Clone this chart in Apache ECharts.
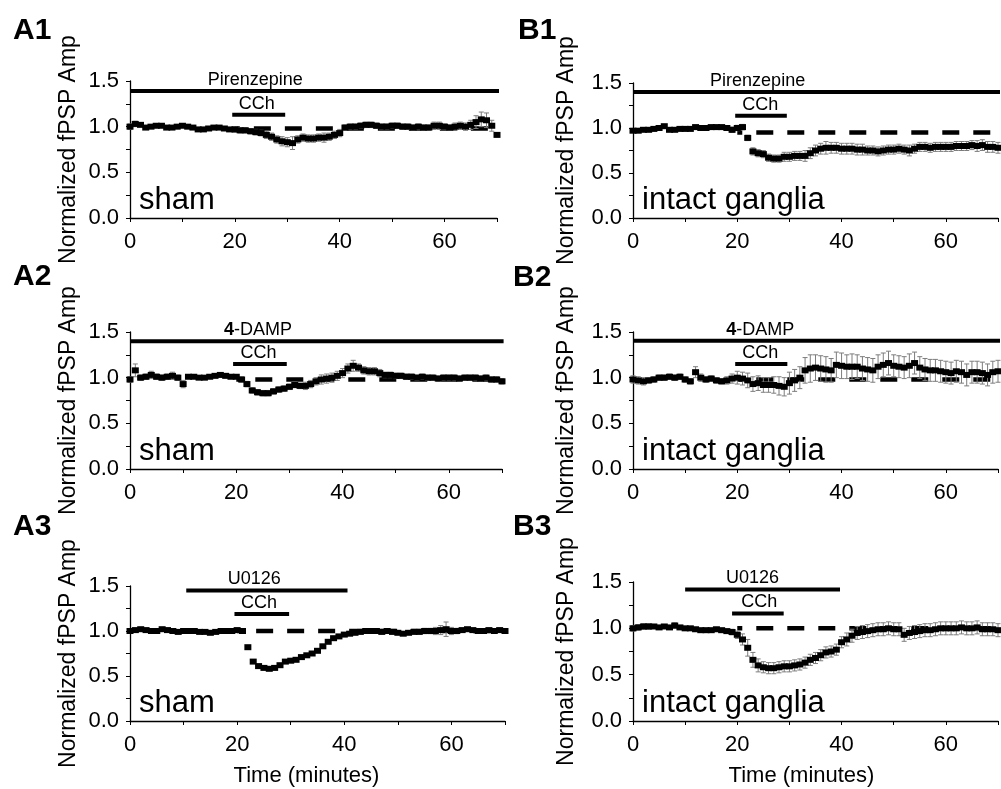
<!DOCTYPE html>
<html><head><meta charset="utf-8">
<script src="https://cdn.jsdelivr.net/npm/echarts@6/dist/echarts.min.js"></script>
<style>html,body{margin:0;padding:0;background:#fff}#c{width:1001px;height:789px}</style>
</head><body><div id="c"></div><script>
// ---------- DATA ----------
const times = [0,1,2,3,4,5,6,7,8,9,10,11,12,13,14,15,16,17,18,19,20,21,22,23,24,25,26,27,28,29,30,31,32,33,34,35,36,37,38,39,40,41,42,43,44,45,46,47,48,49,50,51,52,53,54,55,56,57,58,59,60,61,62,63,64,65,66,67,68,69,70];

const a1Values = [1.00,1.03,1.02,0.99,1.00,1.01,1.01,0.99,0.99,1.00,
 1.01,1.00,0.99,0.97,0.97,0.98,0.99,0.99,0.98,0.97,
 0.97,0.96,0.96,0.95,0.94,0.93,0.91,0.89,0.86,0.84,
 0.83,0.82,0.86,0.88,0.87,0.87,0.88,0.88,0.89,0.91,
 0.93,0.99,1.00,1.00,1.01,1.02,1.02,1.01,1.00,1.00,
 1.01,1.01,1.00,1.00,0.99,1.00,0.99,0.99,1.01,1.01,
 1.00,0.99,1.00,1.01,1.00,1.02,1.05,1.08,1.07,1.01,
 0.91];
const a1Errors = [0.03,0.03,0.02,0.02,0.02,0.02,0.02,0.02,0.02,0.02,
 0.02,0.02,0.02,0.02,0.02,0.02,0.02,0.02,0.02,0.02,
 0.03,0.03,0.03,0.03,0.03,0.03,0.04,0.04,0.04,0.05,
 0.05,0.07,0.04,0.04,0.04,0.04,0.04,0.05,0.04,0.04,
 0.04,0.03,0.03,0.03,0.03,0.03,0.03,0.03,0.03,0.03,
 0.03,0.03,0.03,0.03,0.03,0.03,0.03,0.03,0.04,0.04,
 0.03,0.03,0.04,0.04,0.04,0.05,0.07,0.08,0.08,0.06,
 0.02];

const b1Values = [0.97,0.97,0.98,0.98,0.99,1.00,1.02,0.98,0.98,0.99,
 0.99,0.99,1.01,1.00,1.00,1.01,1.01,1.01,1.00,0.98,
 1.00,1.01,0.89,0.74,0.72,0.71,0.67,0.66,0.66,0.68,
 0.68,0.69,0.69,0.69,0.72,0.75,0.77,0.78,0.78,0.78,
 0.77,0.77,0.77,0.76,0.76,0.75,0.75,0.74,0.75,0.76,
 0.76,0.77,0.76,0.75,0.77,0.79,0.79,0.78,0.79,0.79,
 0.79,0.79,0.80,0.80,0.80,0.81,0.80,0.81,0.79,0.79,
 0.78];
const b1Errors = [0.02,0.02,0.02,0.02,0.02,0.02,0.02,0.02,0.02,0.02,
 0.02,0.02,0.02,0.02,0.02,0.02,0.02,0.02,0.02,0.03,
 0.03,0.03,0.03,0.04,0.04,0.04,0.04,0.04,0.04,0.05,
 0.05,0.05,0.05,0.06,0.06,0.06,0.06,0.07,0.06,0.06,
 0.06,0.06,0.06,0.06,0.06,0.05,0.05,0.05,0.05,0.05,
 0.05,0.05,0.05,0.06,0.05,0.05,0.05,0.05,0.05,0.05,
 0.05,0.05,0.05,0.05,0.05,0.05,0.06,0.06,0.06,0.06,
 0.06];

const a2Values = [0.98,1.08,1.00,1.01,1.03,1.01,1.00,1.01,1.02,1.00,
 0.93,1.01,1.01,1.00,1.00,1.01,1.02,1.03,1.02,1.01,
 1.01,0.98,0.93,0.86,0.84,0.83,0.83,0.85,0.87,0.88,
 0.90,0.92,0.91,0.91,0.93,0.96,0.98,0.99,1.00,1.02,
 1.05,1.10,1.13,1.11,1.08,1.07,1.07,1.05,1.03,1.03,
 1.02,1.02,1.01,1.01,1.00,1.01,1.00,1.00,0.99,1.00,
 1.00,1.00,0.99,1.00,1.00,1.00,0.99,1.00,0.98,0.98,
 0.96];
const a2Errors = [0.03,0.07,0.03,0.03,0.04,0.03,0.03,0.03,0.04,0.03,
 0.04,0.02,0.02,0.02,0.02,0.02,0.02,0.02,0.02,0.02,
 0.02,0.03,0.03,0.03,0.03,0.03,0.03,0.03,0.03,0.03,
 0.03,0.03,0.03,0.04,0.04,0.04,0.05,0.05,0.05,0.05,
 0.05,0.05,0.06,0.04,0.04,0.04,0.04,0.04,0.03,0.03,
 0.03,0.03,0.03,0.03,0.03,0.03,0.03,0.03,0.03,0.03,
 0.03,0.03,0.03,0.03,0.03,0.03,0.03,0.03,0.03,0.03,
 0.03];

const b2Values = [0.98,0.97,0.96,0.97,0.98,1.00,1.00,1.01,1.00,1.01,
 0.98,0.96,1.06,1.00,0.98,0.99,0.97,0.96,0.97,0.99,
 1.00,0.99,0.97,0.93,0.94,0.92,0.92,0.92,0.91,0.90,
 0.94,0.97,1.00,1.08,1.10,1.11,1.10,1.09,1.08,1.14,
 1.13,1.12,1.12,1.12,1.10,1.09,1.08,1.12,1.14,1.16,
 1.13,1.12,1.11,1.13,1.16,1.11,1.09,1.08,1.08,1.07,
 1.06,1.05,1.07,1.06,1.03,1.06,1.06,1.05,1.03,1.06,
 1.07];
const b2Errors = [0.04,0.04,0.04,0.03,0.03,0.03,0.03,0.03,0.03,0.03,
 0.03,0.03,0.06,0.04,0.03,0.03,0.03,0.03,0.04,0.05,
 0.07,0.07,0.08,0.08,0.08,0.08,0.08,0.09,0.10,0.10,
 0.12,0.12,0.12,0.14,0.15,0.14,0.14,0.14,0.13,0.14,
 0.14,0.13,0.14,0.13,0.13,0.13,0.13,0.13,0.13,0.13,
 0.12,0.12,0.12,0.13,0.12,0.12,0.12,0.12,0.12,0.12,
 0.12,0.12,0.12,0.12,0.12,0.12,0.12,0.12,0.12,0.12,
 0.12];

const a3Values = [1.00,1.01,1.02,1.01,1.00,1.00,1.02,1.01,1.00,0.99,
 1.00,1.00,1.00,0.99,0.99,0.98,0.99,1.00,1.00,1.00,
 1.01,1.00,0.82,0.66,0.61,0.59,0.58,0.59,0.62,0.66,
 0.67,0.68,0.71,0.73,0.75,0.78,0.83,0.88,0.92,0.94,
 0.96,0.97,0.98,0.99,1.00,1.00,1.00,0.99,1.00,0.99,
 0.98,0.97,0.98,0.99,0.99,1.00,1.00,1.00,1.01,1.02,
 1.00,1.00,1.01,1.02,1.01,1.00,1.00,1.01,1.00,1.01,
 1.00];
const a3Errors = [0.02,0.02,0.02,0.02,0.02,0.02,0.02,0.02,0.02,0.02,
 0.02,0.02,0.02,0.02,0.02,0.02,0.02,0.02,0.02,0.02,
 0.02,0.02,0.02,0.02,0.02,0.02,0.02,0.02,0.02,0.02,
 0.02,0.02,0.02,0.02,0.02,0.02,0.02,0.02,0.02,0.02,
 0.02,0.02,0.02,0.02,0.02,0.02,0.02,0.02,0.02,0.02,
 0.02,0.02,0.02,0.02,0.02,0.03,0.03,0.04,0.05,0.08,
 0.04,0.03,0.02,0.02,0.02,0.02,0.02,0.02,0.02,0.02,
 0.02];

const b3Values = [1.00,1.01,1.02,1.02,1.02,1.01,1.02,1.01,1.03,1.01,
 1.00,1.00,0.99,0.98,0.98,0.98,0.99,0.98,0.97,0.96,
 0.93,0.88,0.79,0.66,0.60,0.58,0.57,0.57,0.58,0.59,
 0.59,0.60,0.61,0.63,0.66,0.68,0.71,0.74,0.75,0.77,
 0.85,0.88,0.92,0.95,0.96,0.97,0.98,0.99,0.99,1.00,
 0.99,0.99,0.93,0.95,0.96,0.97,0.98,0.98,0.99,1.00,
 1.00,1.00,1.00,1.01,1.00,1.00,1.01,0.99,0.99,0.99,
 0.98];
const b3Errors = [0.03,0.03,0.03,0.03,0.02,0.02,0.02,0.02,0.03,0.02,
 0.02,0.02,0.02,0.02,0.02,0.02,0.02,0.02,0.02,0.03,
 0.04,0.06,0.09,0.08,0.07,0.06,0.06,0.06,0.06,0.06,
 0.06,0.06,0.06,0.06,0.06,0.06,0.06,0.06,0.06,0.06,
 0.06,0.07,0.07,0.07,0.07,0.07,0.07,0.07,0.07,0.07,
 0.07,0.07,0.07,0.07,0.07,0.07,0.07,0.07,0.07,0.07,
 0.07,0.07,0.07,0.07,0.07,0.07,0.07,0.07,0.07,0.07,
 0.07];

// annotation bars (minutes / normalized level)
const panelLetters = ['A1','B1','A2','B2','A3','B3'];
const conditionNames = ['sham','intact ganglia','sham','intact ganglia','sham','intact ganglia'];
const drugNames = ['Pirenzepine','Pirenzepine','4-DAMP','4-DAMP','U0126','U0126'];
const drugStart = [0,0,0,0,10.5,10];
const drugEnd = [71,71,70.3,71,40.6,39.7];
const drugLevel = [1.39,1.40,1.40,1.405,1.45,1.42];
const drugLabelAt = [23.9,23.9,24.1,24.4,23.2,22.9];
const cchName = 'CCh';
const cchStart = [19.5,19.6,19.4,19.6,19.5,19];
const cchEnd = [29.6,29.5,29.5,29.6,29.7,28.9];
const cchLevel = [1.13,1.135,1.15,1.15,1.19,1.16];
const cchLabelAt = [24.2,24.4,24.2,24.4,24.1,24.2];
const baselineLevel = [0.98,0.95,0.98,0.98,1.0,1.0];
const baselineStart = [20,20,20,20,20,20];
const baselineEnd = [70,71,70,71,69.6,71];
const xTickLabels = [0,20,40,60];
const yTickLabels = [0,0.5,1.0,1.5];
const xAxisTitle = 'Time (minutes)';
const yAxisTitle = 'Normalized fPSP Amp';

const seriesValues = [a1Values,b1Values,a2Values,b2Values,a3Values,b3Values];
const seriesErrors = [a1Errors,b1Errors,a2Errors,b2Errors,a3Errors,b3Errors];

// ---------- LAYOUT ----------
const layout = [
  {left:130, top:81,  width:367, height:137, letterX:13,  letterBase:42,  nameGap:50},
  {left:633, top:83,  width:369, height:135, letterX:518, letterBase:42,  nameGap:55},
  {left:130, top:332, width:372, height:137, letterX:13,  letterBase:288, nameGap:50},
  {left:633, top:332, width:369, height:137, letterX:513, letterBase:289, nameGap:55},
  {left:130, top:586, width:375, height:135, letterX:13,  letterBase:538, nameGap:50, xPad:22},
  {left:633, top:582, width:376, height:139, letterX:513, letterBase:538, nameGap:55, xPad:28}
];
const FF = '"Liberation Sans", Arial, sans-serif';
const COND_FS = 31, LETTER_FS = 30;

const chart = echarts.init(document.getElementById('c'), null, {renderer:'canvas'});
const grids = [], xAxes = [], yAxes = [], series = [], graphics = [];

function errRender(params, api){
  const x = api.value(0), y = api.value(1), e = api.value(2);
  const hi = api.coord([x, y + e]), lo = api.coord([x, y - e]);
  const w = 2.5, st = {stroke:'#7d7d7d', lineWidth:1};
  return {type:'group', children:[
    {type:'line', shape:{x1:hi[0], y1:hi[1], x2:lo[0], y2:lo[1]}, style:st},
    {type:'line', shape:{x1:hi[0]-w, y1:hi[1], x2:hi[0]+w, y2:hi[1]}, style:st},
    {type:'line', shape:{x1:lo[0]-w, y1:lo[1], x2:lo[0]+w, y2:lo[1]}, style:st}
  ]};
}

layout.forEach((L, i) => {
  grids.push({left:L.left, top:L.top, width:L.width, height:L.height, containLabel:false});
  const bottomRow = i >= 4;
  xAxes.push({
    type:'value', gridIndex:i, min:0, max:70, interval:10,
    axisLine:{show:true, onZero:false, lineStyle:{color:'#000', width:1.3}},
    axisTick:{show:true, length:4, lineStyle:{color:'#000', width:1}},
    splitLine:{show:false},
    axisLabel:{color:'#000', fontSize:22, fontFamily:FF, margin:13,
      formatter: v => xTickLabels.indexOf(v) >= 0 ? String(v) : ''},
    name: bottomRow ? xAxisTitle : '', nameLocation:'middle', nameGap:44,
    nameTextStyle:{color:'#000', fontSize:22, fontFamily:FF, padding:[0, L.xPad || 0, 0, 0]}
  });
  yAxes.push({
    type:'value', gridIndex:i, min:0, max:1.5, interval:0.25,
    axisLine:{show:true, onZero:false, lineStyle:{color:'#000', width:1.3}},
    axisTick:{show:true, length:4, lineStyle:{color:'#000', width:1}},
    splitLine:{show:false},
    axisLabel:{color:'#000', fontSize:22, fontFamily:FF, margin:11,
      formatter: v => yTickLabels.some(t => Math.abs(t - v) < 1e-6) ? v.toFixed(1) : ''},
    name: yAxisTitle, nameLocation:'middle', nameGap:L.nameGap, nameRotate:90,
    nameTextStyle:{color:'#000', fontSize:23, fontFamily:FF}
  });

  // baseline dashed line
  series.push({type:'line', xAxisIndex:i, yAxisIndex:i, clip:false, silent:true, symbol:'none', z:1,
    data:[[baselineStart[i], baselineLevel[i]], [baselineEnd[i], baselineLevel[i]]],
    lineStyle:{color:'#000', width:4.5, opacity:1, type:[17,14], dashOffset:12}});
  // error bars
  series.push({type:'custom', xAxisIndex:i, yAxisIndex:i, z:2, silent:true, renderItem:errRender,
    data: times.map((t, k) => [t, seriesValues[i][k], seriesErrors[i][k]])});
  // mean points
  series.push({type:'scatter', xAxisIndex:i, yAxisIndex:i, z:3, silent:true, symbol:'rect', symbolSize:[7,6],
    itemStyle:{color:'#000', opacity:1}, data: times.map((t, k) => [t, seriesValues[i][k]])});
  // drug bar
  series.push({type:'line', xAxisIndex:i, yAxisIndex:i, clip:false, silent:true, symbol:'none', z:4,
    data:[[drugStart[i], drugLevel[i]], [drugEnd[i], drugLevel[i]]], lineStyle:{color:'#000', width:4, opacity:1}});
  // CCh bar
  series.push({type:'line', xAxisIndex:i, yAxisIndex:i, clip:false, silent:true, symbol:'none', z:4,
    data:[[cchStart[i], cchLevel[i]], [cchEnd[i], cchLevel[i]]], lineStyle:{color:'#000', width:4, opacity:1}});
  // bar labels
  series.push({type:'scatter', xAxisIndex:i, yAxisIndex:i, clip:false, silent:true, symbolSize:0, z:5,
    itemStyle:{opacity:1},
    data:[[drugLabelAt[i], drugLevel[i], drugNames[i]], [cchLabelAt[i], cchLevel[i], cchName]],
    label:{show:true, position:'top', distance:2, color:'#000', opacity:1, fontSize:18, fontFamily:FF,
      formatter: p => p.data[2] === '4-DAMP' ? '{b|4}-DAMP' : p.data[2],
      rich:{b:{fontWeight:'bold', fontSize:18, fontFamily:FF, color:'#000'}}}});

  // condition text
  graphics.push({type:'text', x:L.left + 9, y:L.top + L.height - 6.5 - 0.36*COND_FS,
    style:{text:conditionNames[i], font:COND_FS + 'px ' + FF, fill:'#000', verticalAlign:'middle', align:'left'}});
  // panel letter
  graphics.push({type:'text', x:L.letterX, y:L.letterBase - 0.36*LETTER_FS,
    style:{text:panelLetters[i], font:'bold ' + LETTER_FS + 'px ' + FF, fill:'#000', verticalAlign:'middle', align:'left'}});
});

chart.setOption({
  animation:false,
  backgroundColor:'#fff',
  grid:grids, xAxis:xAxes, yAxis:yAxes, series:series, graphic:graphics
});
</script></body></html>
